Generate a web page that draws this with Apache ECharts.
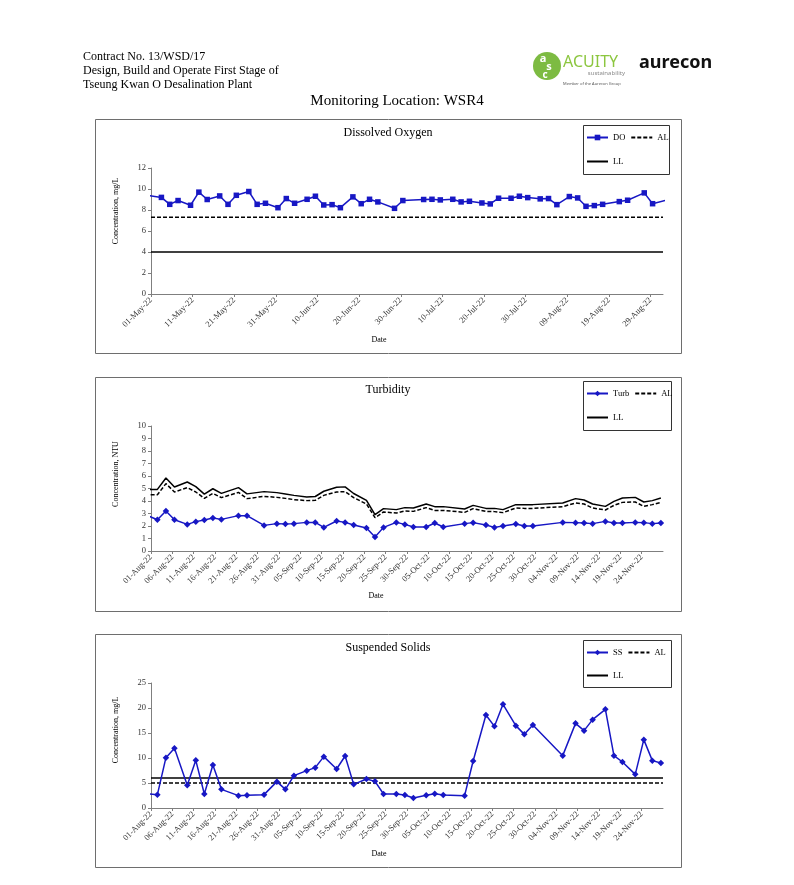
<!DOCTYPE html>
<html><head><meta charset="utf-8">
<script src="https://cdn.jsdelivr.net/npm/echarts@6/dist/echarts.min.js"></script>
<style>html,body{margin:0;padding:0;background:#fff}#c{width:794px;height:885px}</style>
</head><body><div id="c"></div>
<script>
// ---------- DATA ----------
const doStart = '2022-05-01';
const doDates = ['2022-04-30','2022-05-03','2022-05-05','2022-05-07','2022-05-10','2022-05-12','2022-05-14','2022-05-17','2022-05-19','2022-05-21','2022-05-24','2022-05-26','2022-05-28','2022-05-31','2022-06-02','2022-06-04','2022-06-07','2022-06-09','2022-06-11','2022-06-13','2022-06-15','2022-06-18','2022-06-20','2022-06-22','2022-06-24','2022-06-28','2022-06-30','2022-07-05','2022-07-07','2022-07-09','2022-07-12','2022-07-14','2022-07-16','2022-07-19','2022-07-21','2022-07-23','2022-07-26','2022-07-28','2022-07-30','2022-08-02','2022-08-04','2022-08-06','2022-08-09','2022-08-11','2022-08-13','2022-08-15','2022-08-17','2022-08-21','2022-08-23','2022-08-27','2022-08-29','2022-09-01'];
const doValues = [9.37,9.2,8.54,8.9,8.45,9.7,9.0,9.34,8.54,9.4,9.76,8.54,8.64,8.22,9.09,8.64,9.02,9.31,8.48,8.51,8.22,9.25,8.6,9.02,8.77,8.16,8.9,9.0,9.02,8.96,9.02,8.77,8.83,8.67,8.58,9.12,9.12,9.31,9.18,9.06,9.09,8.51,9.28,9.15,8.35,8.42,8.54,8.8,8.93,9.63,8.6,8.91];
const doAL = 7.3;
const doLL = 4;

const wqStart = '2022-08-01';
const wqDates = ['2022-07-30','2022-08-02','2022-08-04','2022-08-06','2022-08-09','2022-08-11','2022-08-13','2022-08-15','2022-08-17','2022-08-21','2022-08-23','2022-08-27','2022-08-30','2022-09-01','2022-09-03','2022-09-06','2022-09-08','2022-09-10','2022-09-13','2022-09-15','2022-09-17','2022-09-20','2022-09-22','2022-09-24','2022-09-27','2022-09-29','2022-10-01','2022-10-04','2022-10-06','2022-10-08','2022-10-13','2022-10-15','2022-10-18','2022-10-20','2022-10-22','2022-10-25','2022-10-27','2022-10-29','2022-11-05','2022-11-08','2022-11-10','2022-11-12','2022-11-15','2022-11-17','2022-11-19','2022-11-22','2022-11-24','2022-11-26','2022-11-28'];
const turbValues = [2.94,2.5,3.2,2.5,2.13,2.35,2.48,2.64,2.53,2.83,2.83,2.05,2.19,2.16,2.19,2.29,2.29,1.89,2.4,2.29,2.08,1.84,1.12,1.89,2.29,2.13,1.92,1.92,2.24,1.92,2.19,2.27,2.08,1.89,2.0,2.16,2.0,2.0,2.29,2.27,2.24,2.19,2.37,2.24,2.24,2.29,2.27,2.19,2.24];
const turbAL = [4.5,4.5,5.39,4.72,5.07,4.72,4.21,4.61,4.27,4.69,4.19,4.37,4.29,4.21,4.11,4.03,4.05,4.45,4.72,4.75,4.27,3.76,2.67,3.12,3.04,3.2,3.17,3.47,3.25,3.25,3.09,3.39,3.17,3.15,3.07,3.44,3.41,3.41,3.55,3.84,3.76,3.44,3.28,3.65,3.89,3.92,3.57,3.71,3.89];
const turbLL = [4.93,4.93,5.84,5.12,5.52,5.15,4.55,4.98,4.61,5.07,4.57,4.75,4.67,4.56,4.45,4.32,4.36,4.78,5.1,5.13,4.6,4.05,2.91,3.39,3.31,3.47,3.44,3.76,3.55,3.55,3.36,3.65,3.41,3.41,3.31,3.71,3.71,3.71,3.84,4.19,4.08,3.76,3.57,3.97,4.24,4.29,3.92,4.03,4.24];
const ssValues = [2.93,2.67,10.07,11.93,4.53,9.53,2.8,8.6,3.73,2.47,2.53,2.67,5.27,3.73,6.47,7.47,8.07,10.27,7.8,10.4,4.73,5.8,5.33,2.8,2.8,2.6,2.0,2.53,2.87,2.6,2.47,9.4,18.6,16.33,20.73,16.47,14.73,16.6,10.47,16.93,15.47,17.67,19.73,10.47,9.2,6.73,13.67,9.47,9.0];
const ssAL = 5;
const ssLL = 6;

const doYTicks = {max: 12, interval: 2};
const turbYTicks = {max: 10, interval: 1};
const ssYTicks = {max: 25, interval: 5};
const doSpanDays = 123, wqSpanDays = 120;

// ---------- HELPERS ----------
const FF = '"Liberation Serif", "Times New Roman", serif';
const SANS = '"Noto Sans", "Open Sans", sans-serif';
const BLUE = '#1717c4';
const MON = ['Jan','Feb','Mar','Apr','May','Jun','Jul','Aug','Sep','Oct','Nov','Dec'];
const DAY = 864e5;
function t0(s){ return Date.parse(s + 'T00:00:00Z'); }
function dayPos(start, d){ return (t0(d) - t0(start)) / DAY + 0.5; }
function fmt(start, v){
  const t = new Date(t0(start) + Math.round(v) * DAY);
  return String(t.getUTCDate()).padStart(2,'0') + '-' + MON[t.getUTCMonth()] + '-' + String(t.getUTCFullYear()).slice(2);
}
function xAx(gi, start, max, interval){
  return {type:'value', gridIndex:gi, min:0, max:max, interval:interval,
    axisLine:{lineStyle:{color:'#7f7f7f', width:1}},
    axisTick:{show:true, length:3, lineStyle:{color:'#7f7f7f'}},
    splitLine:{show:false},
    axisLabel:{rotate:45, fontSize:8.5, color:'#333', fontFamily:FF, margin:5, showMaxLabel:false,
      formatter:function(v){ return fmt(start, v); }}};
}
function yAx(gi, t){
  return {type:'value', gridIndex:gi, min:0, max:t.max, interval:t.interval,
    axisLine:{show:true, lineStyle:{color:'#7f7f7f', width:1}},
    axisTick:{show:true, length:3, lineStyle:{color:'#7f7f7f'}},
    splitLine:{show:false},
    axisLabel:{fontSize:8.5, color:'#333', fontFamily:FF, margin:5}};
}
function mainSeries(name, gi, start, dates, vals, symbol){
  return {name:name, type:'line', xAxisIndex:gi, yAxisIndex:gi, clip:true,
    data: dates.map(function(d,i){ return [dayPos(start,d), vals[i]]; }),
    symbol:symbol, symbolSize: symbol === 'rect' ? 5.5 : 6.5, showAllSymbol:true,
    lineStyle:{color:BLUE, width:1.5}, itemStyle:{color:BLUE}, z:5};
}
function limitSeries(name, gi, points, dashed){
  return {name:name, type:'line', xAxisIndex:gi, yAxisIndex:gi, clip:true, data:points,
    symbol:'none', lineStyle:{color:'#000', width:1.5, type: dashed ? [4,2] : 'solid'},
    itemStyle:{color:'#000'}, z:3};
}
function constLine(v, span){ return [[0, v], [span, v]]; }
function dateLine(start, dates, vals){ return dates.map(function(d,i){ return [dayPos(start,d), vals[i]]; }); }
function legendItem(n){
  return (n === 'AL' || n === 'LL') ? {name:n, itemStyle:{opacity:0}} : {name:n};
}
function legendRow(names, left, top){
  return {data:names.map(legendItem), left:left, top:top, orient:'horizontal', itemWidth:21, itemHeight:7, itemGap:5,
    padding:0, selectedMode:false, textStyle:{fontSize:8.5, fontFamily:FF, color:'#000'}};
}
function txt(x, y, text, size, opts){
  opts = opts || {};
  return {type:'text', x:x, y:y, rotation: opts.rot || 0, z:10,
    style:{text:text, font:(opts.weight||'normal') + ' ' + size + 'px ' + (opts.family || FF),
      fill: opts.fill || '#000', align: opts.align || 'center', verticalAlign:'middle'}};
}
function box(x, y, w, h, color){
  return {type:'rect', shape:{x:x+0.5, y:y+0.5, width:w, height:h}, z:1,
    style:{fill:'none', stroke:color, lineWidth:1}};
}

// ---------- LAYOUT ----------
const grids = [
  {left:151, top:168, width:512, height:126},
  {left:151, top:426, width:512, height:125},
  {left:151, top:683, width:512, height:125}
];

const chart = echarts.init(document.getElementById('c'), null, {renderer:'canvas'});
chart.setOption({
  backgroundColor:'#fff',
  animation:false,
  grid: grids,
  xAxis: [xAx(0, doStart, doSpanDays, 10), xAx(1, wqStart, wqSpanDays, 5), xAx(2, wqStart, wqSpanDays, 5)],
  yAxis: [yAx(0, doYTicks), yAx(1, turbYTicks), yAx(2, ssYTicks)],
  legend: [
    legendRow(['DO','AL'], 586, 133), legendRow(['LL'], 586, 157),
    legendRow(['Turb','AL'], 586, 389), legendRow(['LL'], 586, 413),
    legendRow(['SS','AL'], 586, 648), legendRow(['LL'], 586, 671)
  ],
  series: [
    limitSeries('AL', 0, constLine(doAL, doSpanDays), true),
    limitSeries('LL', 0, constLine(doLL, doSpanDays), false),
    mainSeries('DO', 0, doStart, doDates, doValues, 'rect'),
    limitSeries('AL', 1, dateLine(wqStart, wqDates, turbAL), true),
    limitSeries('LL', 1, dateLine(wqStart, wqDates, turbLL), false),
    mainSeries('Turb', 1, wqStart, wqDates, turbValues, 'diamond'),
    limitSeries('AL', 2, constLine(ssAL, wqSpanDays), true),
    limitSeries('LL', 2, constLine(ssLL, wqSpanDays), false),
    mainSeries('SS', 2, wqStart, wqDates, ssValues, 'diamond')
  ],
  graphic: [
    // header
    txt(83, 57, 'Contract No. 13/WSD/17', 12, {align:'left'}),
    txt(83, 71, 'Design, Build and Operate First Stage of', 12, {align:'left'}),
    txt(83, 85, 'Tseung Kwan O Desalination Plant', 12, {align:'left'}),
    txt(397, 101, 'Monitoring Location: WSR4', 15),
    // logos
    {type:'circle', shape:{cx:547, cy:66, r:14}, style:{fill:'#7dbb42'}, z:9},
    txt(543, 59, 'a', 11, {fill:'#fff', weight:'bold', family:SANS}),
    txt(549, 67, 's', 11, {fill:'#fff', weight:'bold', family:SANS}),
    txt(545, 75, 'c', 10, {fill:'#fff', weight:'bold', family:SANS}),
    txt(563, 62, 'ACUITY', 16, {align:'left', fill:'#8cc63f', family:SANS}),
    txt(625, 73, 'sustainability', 6, {align:'right', fill:'#8a8a8a', family:SANS}),
    txt(563, 84, 'Member of the Aurecon Group', 4, {align:'left', fill:'#555', family:SANS}),
    txt(639, 63, 'aurecon', 18, {align:'left', fill:'#111', weight:'bold', family:SANS}),
    // boxes
    box(95, 119, 586, 234, '#6e6e6e'),
    box(95, 377, 586, 234, '#6e6e6e'),
    box(95, 634, 586, 233, '#6e6e6e'),
    // legend frames
    box(583, 125, 86, 49, '#333'),
    box(583, 381, 88, 49, '#333'),
    box(583, 640, 88, 47, '#333'),
    // titles
    txt(388, 133, 'Dissolved Oxygen', 12),
    txt(388, 390, 'Turbidity', 12),
    txt(388, 648, 'Suspended Solids', 12),
    // axis names
    txt(116, 211, 'Concentration, mg/L', 8, {rot:Math.PI/2}),
    txt(116, 474, 'Concentration, NTU', 8, {rot:Math.PI/2}),
    txt(116, 730, 'Concentration, mg/L', 8, {rot:Math.PI/2}),
    txt(379, 340, 'Date', 8),
    txt(376, 596, 'Date', 8),
    txt(379, 854, 'Date', 8)
  ]
});
</script>
</body></html>
